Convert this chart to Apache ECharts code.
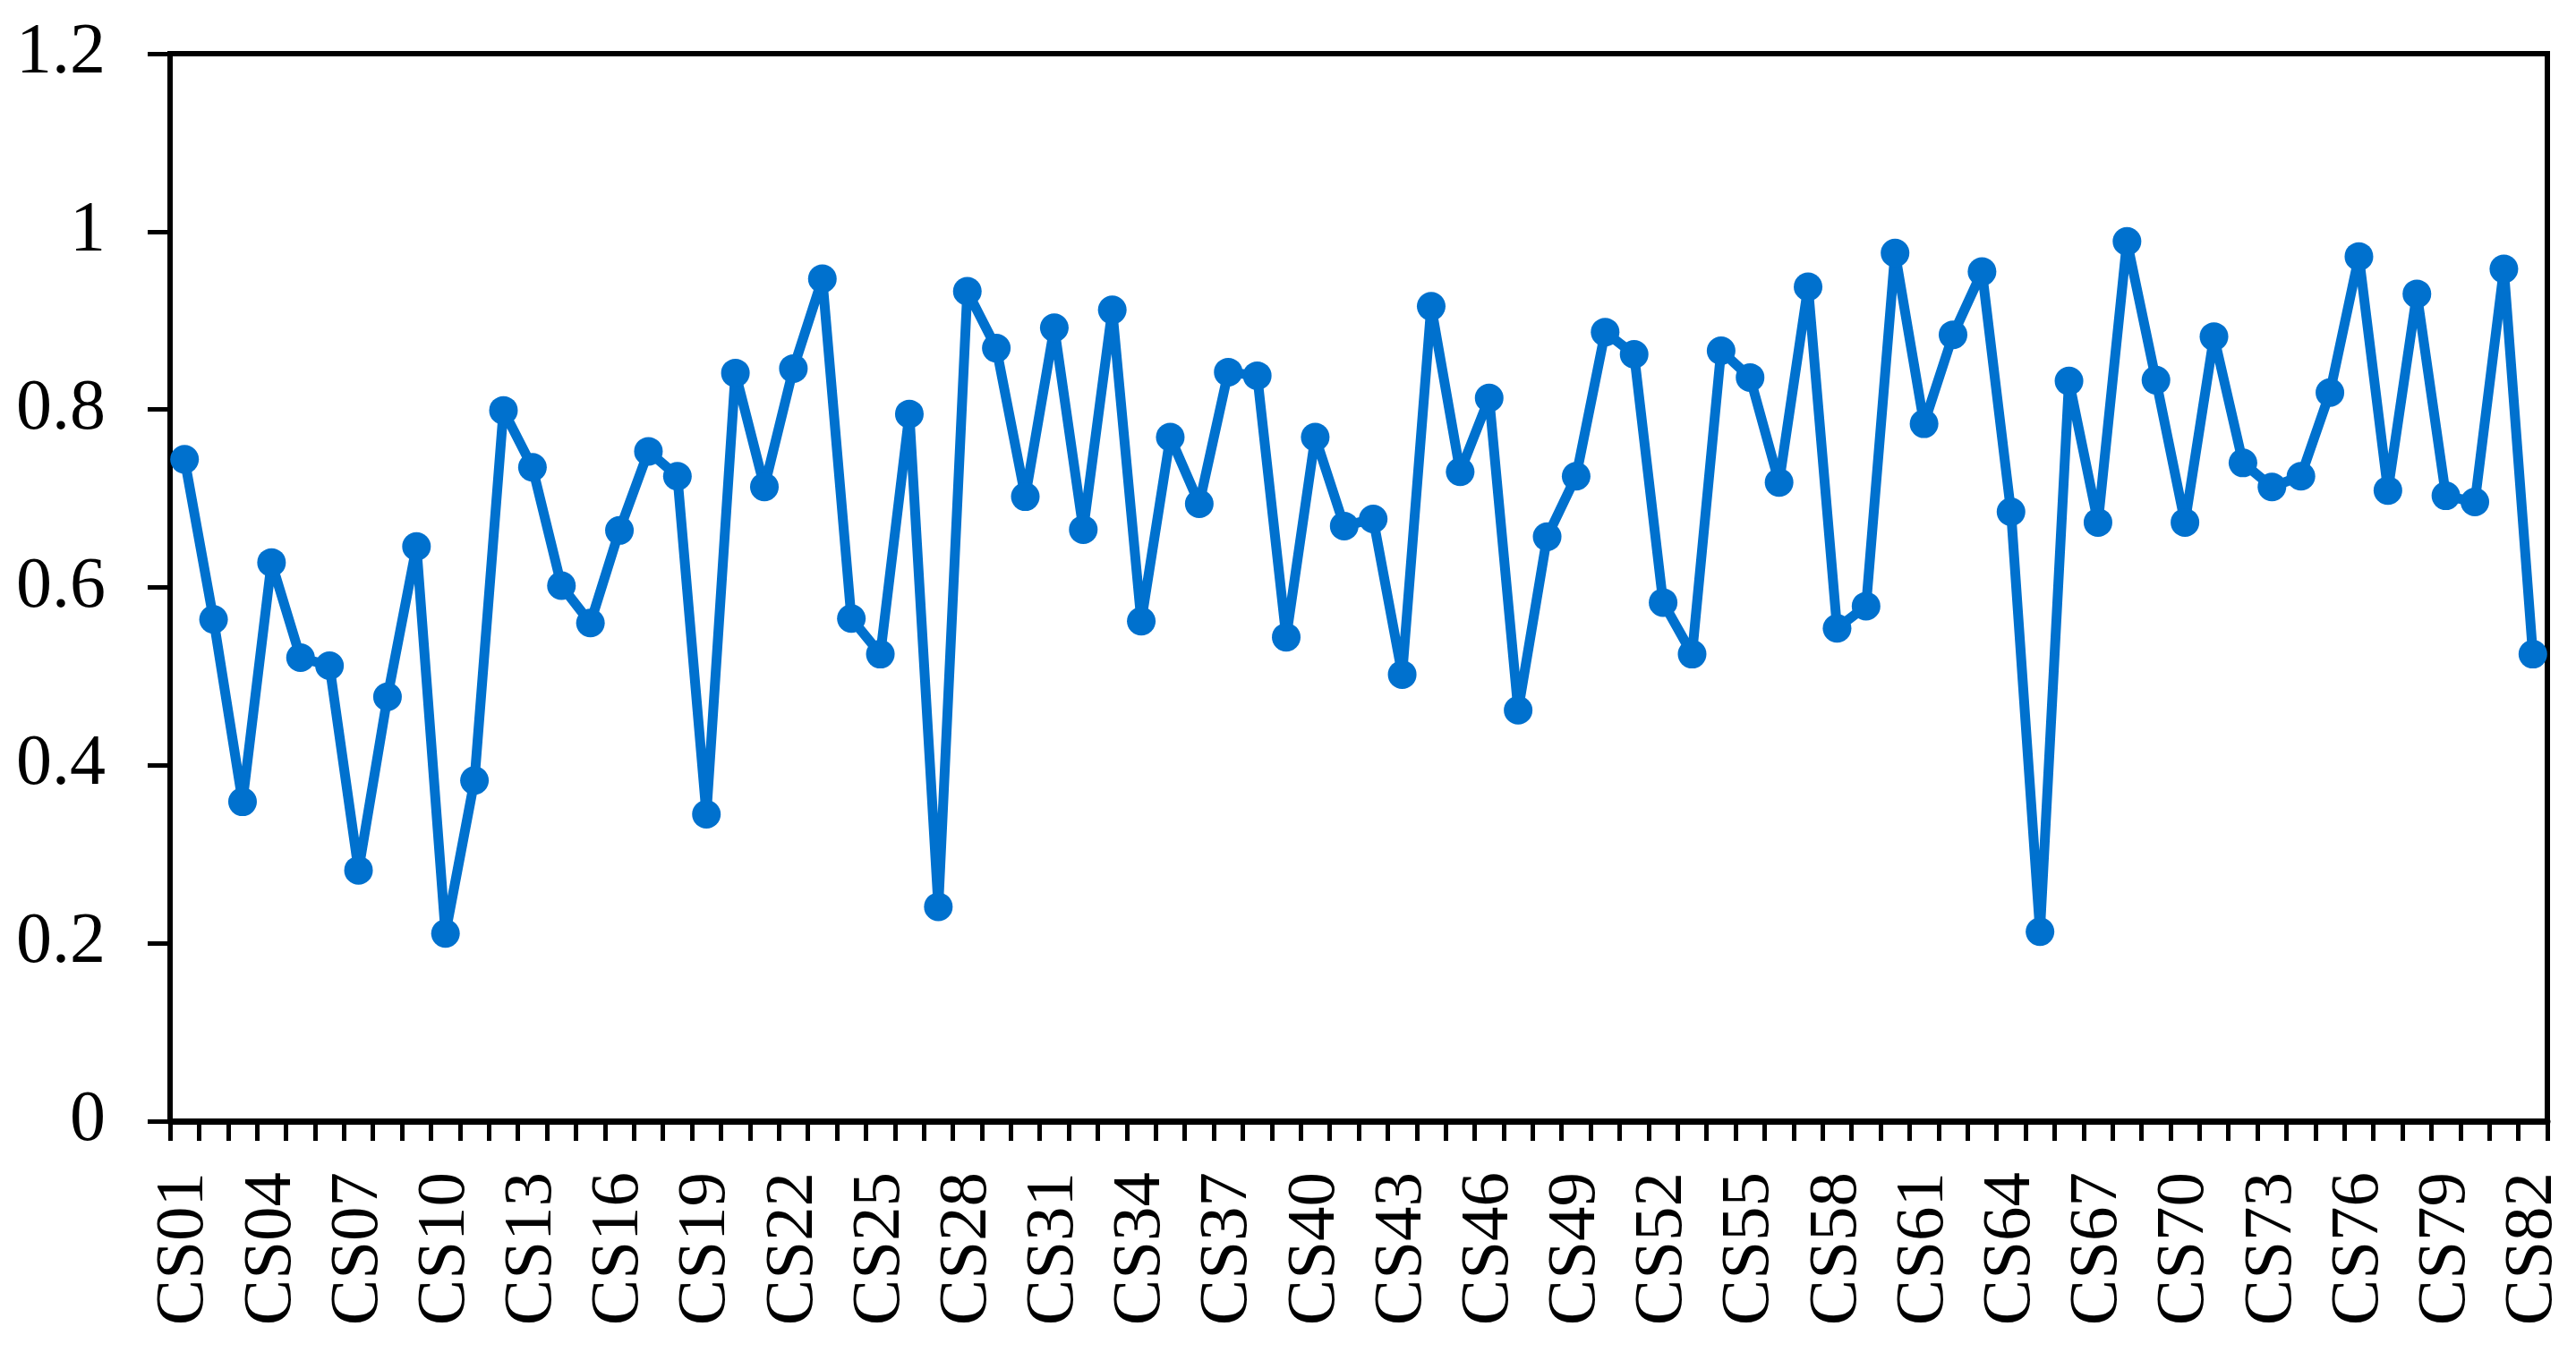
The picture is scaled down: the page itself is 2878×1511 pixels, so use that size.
<!DOCTYPE html>
<html>
<head>
<meta charset="utf-8">
<script src="https://cdn.jsdelivr.net/npm/echarts@6/dist/echarts.min.js"></script>
<style>
html,body{margin:0;padding:0;background:#fff;}
#chart{width:2878px;height:1511px;}
</style>
</head>
<body>
<div id="chart"></div>
<script>
const categories = [];
for (let i = 1; i <= 82; i++) categories.push('CS' + String(i).padStart(2, '0'));

const values = [
  0.744, 0.564, 0.359, 0.628, 0.521, 0.512, 0.282, 0.477, 0.646, 0.211,
  0.383, 0.799, 0.735, 0.602, 0.560, 0.664, 0.753, 0.725, 0.345, 0.841,
  0.713, 0.846, 0.947, 0.565, 0.525, 0.795, 0.241, 0.933, 0.869, 0.702,
  0.892, 0.665, 0.912, 0.562, 0.769, 0.694, 0.842, 0.838, 0.544, 0.769,
  0.669, 0.677, 0.502, 0.916, 0.730, 0.813, 0.462, 0.657, 0.725, 0.887,
  0.862, 0.583, 0.525, 0.866, 0.836, 0.718, 0.938, 0.554, 0.579, 0.976,
  0.784, 0.884, 0.955, 0.685, 0.213, 0.832, 0.673, 0.989, 0.833, 0.673,
  0.882, 0.740, 0.713, 0.725, 0.819, 0.972, 0.709, 0.930, 0.703, 0.696,
  0.958, 0.525
];

const yMin = 0, yMax = 1.2, yInterval = 0.2;

const chart = echarts.init(document.getElementById('chart'), null, {renderer: 'canvas'});
const font = '"Liberation Serif", "Times New Roman", serif';
chart.setOption({
  animation: false,
  backgroundColor: '#ffffff',
  grid: {
    left: 190, right: 32, top: 60, bottom: 258,
    show: true, borderColor: '#000', borderWidth: 6, backgroundColor: 'transparent'
  },
  xAxis: {
    type: 'category',
    data: categories,
    boundaryGap: true,
    axisLine: {lineStyle: {color: '#000', width: 7}},
    axisTick: {show: true, interval: 0, length: 22, inside: false, lineStyle: {color: '#000', width: 5}},
    axisLabel: {
      interval: 2, rotate: 90, margin: 57,
      color: '#000', fontFamily: font, fontSize: 77
    },
    splitLine: {show: false}
  },
  yAxis: {
    type: 'value',
    min: yMin, max: yMax, interval: yInterval,
    axisLine: {show: true, lineStyle: {color: '#000', width: 6}},
    axisTick: {show: true, length: 25, inside: false, lineStyle: {color: '#000', width: 5}},
    axisLabel: {
      margin: 72, color: '#000', fontFamily: font, fontSize: 80,
      formatter: function (v) { return String(Math.round(v * 10) / 10); }
    },
    splitLine: {show: false}
  },
  series: [{
    type: 'line',
    data: values,
    symbol: 'circle',
    symbolSize: 32,
    showSymbol: true,
    showAllSymbol: true,
    lineStyle: {color: '#0071CE', width: 11},
    itemStyle: {color: '#0071CE'}
  }]
});
</script>
</body>
</html>
